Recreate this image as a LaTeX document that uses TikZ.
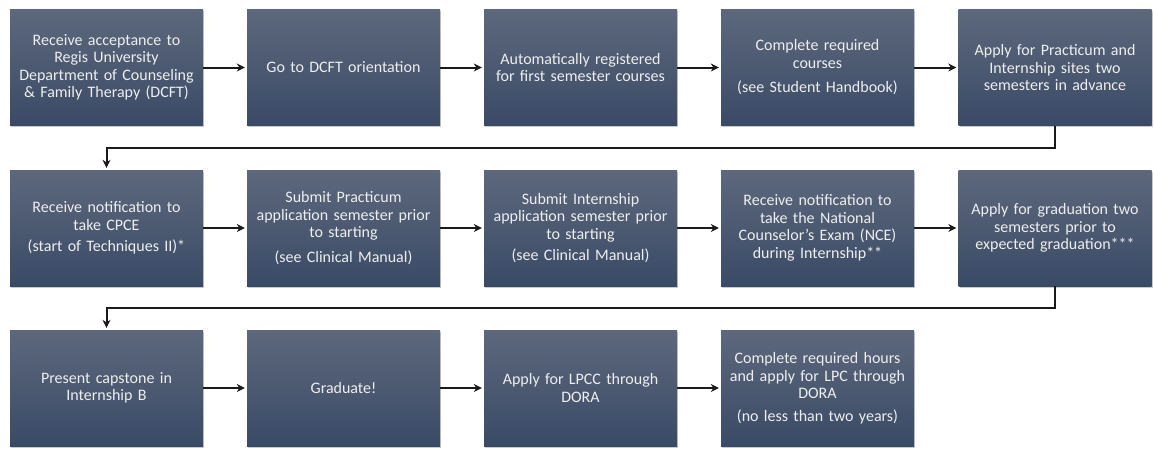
\documentclass[tikz,border=0pt]{standalone}
\usepackage{fontspec}
\setmainfont{Carlito}
\usetikzlibrary{arrows.meta,shadows}
\definecolor{boxtop}{HTML}{5D687C}
\definecolor{boxbot}{HTML}{3A4A66}
\definecolor{boxtext}{HTML}{EEEEEE}
\definecolor{linecol}{HTML}{1A1A1A}
\tikzset{
  stepbox/.style={rectangle, minimum width=193pt, minimum height=116pt, inner sep=0pt,
    top color=boxtop, bottom color=boxbot, draw=none,
    drop shadow={shadow xshift=1pt, shadow yshift=-1.5pt, opacity=0.35, fill=black!60},
    text=boxtext, align=center, text width=188pt,
    font=\fontsize{16}{17.5}\selectfont},
  flow/.style={draw=linecol, line width=2pt, -{Stealth[length=8pt,width=8pt]}, shorten >=2pt},
}
\begin{document}
\begin{tikzpicture}[x=1pt,y=-1pt]
\useasboundingbox (0,0) rectangle (1154,448);
% row 1
\node[stepbox] (n1) at (106.5,67.5) {Receive acceptance to\\Regis University\\Department of Counseling\\\& Family Therapy (DCFT)};
\node[stepbox] (n2) at (343.5,67.5) {Go to DCFT orientation};
\node[stepbox] (n3) at (580.5,67.5) {Automatically registered\\for first semester courses};
\node[stepbox] (n4) at (817.5,67.5) {Complete required\\courses\\[7pt](see Student Handbook)};
\node[stepbox] (n5) at (1055,67.5) {Apply for Practicum and\\Internship sites two\\semesters in advance};
% row 2
\node[stepbox] (n6) at (106.5,228) {Receive notification to\\take CPCE\\[4pt](start of Techniques II)*};
\node[stepbox] (n7) at (343.5,228) {Submit Practicum\\application semester prior\\to starting\\[7pt](see Clinical Manual)};
\node[stepbox] (n8) at (580.5,228) {Submit Internship\\application semester prior\\to starting\\[4pt](see Clinical Manual)};
\node[stepbox] (n9) at (817.5,228) {Receive notification to\\take the National\\Counselor’s Exam (NCE)\\during Internship**};
\node[stepbox] (n10) at (1055,228) {Apply for graduation two\\semesters prior to\\expected graduation***};
% row 3
\node[stepbox] (n11) at (106.5,388) {Present capstone in\\Internship B};
\node[stepbox] (n12) at (343.5,388) {Graduate!};
\node[stepbox] (n13) at (580.5,388) {Apply for LPCC through\\DORA};
\node[stepbox] (n14) at (817.5,388) {Complete required hours\\and apply for LPC through\\DORA\\[5pt](no less than two years)};
% connectors
\draw[flow] (n1) -- (n2);
\draw[flow] (n2) -- (n3);
\draw[flow] (n3) -- (n4);
\draw[flow] (n4) -- (n5);
\draw[flow] (n5.south) -- ++(0,22) -| (n6.north);
\draw[flow] (n6) -- (n7);
\draw[flow] (n7) -- (n8);
\draw[flow] (n8) -- (n9);
\draw[flow] (n9) -- (n10);
\draw[flow] (n10.south) -- ++(0,22) -| (n11.north);
\draw[flow] (n11) -- (n12);
\draw[flow] (n12) -- (n13);
\draw[flow] (n13) -- (n14);
\end{tikzpicture}
\end{document}
